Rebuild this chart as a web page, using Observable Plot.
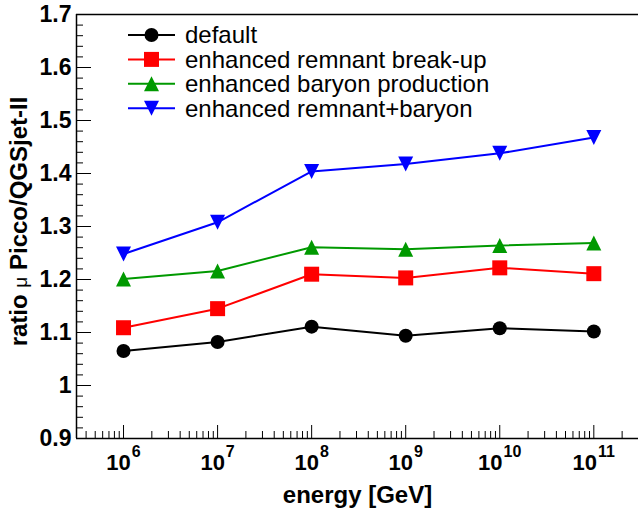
<!DOCTYPE html>
<html><head><meta charset="utf-8">
<script src="https://cdn.jsdelivr.net/npm/d3@7"></script>
<script src="https://cdn.jsdelivr.net/npm/@observablehq/plot@0.6"></script>
<style>
body{margin:0;background:#fff}
#chart svg{display:block}
</style>
</head><body><div id="chart"></div>
<script>
// ---- data ----
const exponents = [6, 7, 8, 9, 10, 11];
const energies = [1e6, 1e7, 1e8, 1e9, 1e10, 1e11];
const seriesNames = ["default", "enhanced remnant break-up", "enhanced baryon production", "enhanced remnant+baryon"];
const seriesColors = ["#000000", "#ff0000", "#009900", "#0000ff"];
const valDefault = [1.065, 1.082, 1.111, 1.094, 1.108, 1.102];
const valRemnant = [1.109, 1.145, 1.210, 1.203, 1.222, 1.211];
const valBaryon  = [1.201, 1.216, 1.261, 1.257, 1.264, 1.269];
const valBoth    = [1.248, 1.308, 1.404, 1.418, 1.438, 1.468];
const yTickValues = [0.9, 1.0, 1.1, 1.2, 1.3, 1.4, 1.5, 1.6, 1.7];
const yTickLabels = ["0.9", "1", "1.1", "1.2", "1.3", "1.4", "1.5", "1.6", "1.7"];
const xTickLabels = ["10^6", "10^7", "10^8", "10^9", "10^10", "10^11"];
const xTitle = "energy [GeV]";
const yTitle = "ratio μ Picco/QGSjet-II";

// ---- symbols (ROOT-like markers) ----
const symCircle = {draw(c, s) { const r = Math.sqrt(s / Math.PI); c.moveTo(r, 0); c.arc(0, 0, r, 0, 2 * Math.PI); }};
const symSquare = {draw(c, s) { const r = Math.sqrt(s / Math.PI); c.rect(-r, -r, 2 * r, 2 * r); }};
const symTriUp = {draw(c, s) { const r = Math.sqrt(s / Math.PI); c.moveTo(0, -r); c.lineTo(r, r); c.lineTo(-r, r); c.closePath(); }};
const symTriDown = {draw(c, s) { const r = Math.sqrt(s / Math.PI); c.moveTo(0, r); c.lineTo(r, -r); c.lineTo(-r, -r); c.closePath(); }};
const seriesSymbols = [symCircle, symSquare, symTriUp, symTriDown];
const seriesR = [7, 7.5, 7.5, 7.5];
const seriesValues = [valDefault, valRemnant, valBaryon, valBoth];

const font = "'Liberation Sans', Arial, Helvetica, sans-serif";
const xDomain = [10 ** 5.5, 10 ** 11.475];
const yDomain = [0.9, 1.7];

const xAll = d3.scaleLog().domain(xDomain).ticks();
const xMinor = xAll.filter(v => !energies.some(e => Math.abs(e - v) / e < 1e-9));
const yMinor = d3.range(0, 41).map(i => +(0.9 + i * 0.02).toFixed(2)).filter(v => !yTickValues.some(t => Math.abs(t - v) < 1e-9));

const marks = [];
// frame lines
marks.push(Plot.ruleY([yDomain[1]], {stroke: "#000", strokeWidth: 1.5}));
marks.push(Plot.ruleY([yDomain[0]], {stroke: "#000", strokeWidth: 1.5}));
marks.push(Plot.ruleX([xDomain[0]], {stroke: "#000", strokeWidth: 1.5}));
// inward ticks
marks.push(Plot.axisX(xMinor, {anchor: "bottom", tickSize: -7, tickFormat: () => "", label: null, strokeWidth: 1}));
marks.push(Plot.axisX(energies, {anchor: "bottom", tickSize: -13, tickFormat: () => "", label: null, strokeWidth: 1}));
marks.push(Plot.axisY(yMinor, {anchor: "left", tickSize: -7, tickFormat: () => "", label: null, strokeWidth: 1}));
marks.push(Plot.axisY(yTickValues, {anchor: "left", tickSize: -15, tickFormat: () => "", label: null, strokeWidth: 1}));
// tick labels
marks.push(Plot.text(yTickValues, {y: d => d, frameAnchor: "left", dx: -5, textAnchor: "end", lineAnchor: "middle",
  text: (d, i) => yTickLabels[i], fontSize: 23, fontWeight: "bold", fill: "#000"}));
marks.push(Plot.text(energies, {x: d => d, frameAnchor: "bottom", dy: 24, textAnchor: "middle", lineAnchor: "middle",
  text: (d, i) => xTickLabels[i], fontSize: 22, fontWeight: "bold", fill: "#000"}));
// titles
marks.push(Plot.text([xTitle], {frameAnchor: "bottom", dy: 57, textAnchor: "middle", lineAnchor: "middle",
  text: d => d, fontSize: 24, fontWeight: "bold", fill: "#000"}));
marks.push(Plot.text([yTitle], {frameAnchor: "left", dx: -57, dy: -5, rotate: -90, textAnchor: "middle", lineAnchor: "middle",
  text: d => d, fontSize: 24, fontWeight: "bold", fill: "#000"}));
// series
seriesValues.forEach((vals, k) => {
  const rows = energies.map((e, i) => ({energy: e, value: vals[i]}));
  marks.push(Plot.line(rows, {x: "energy", y: "value", stroke: seriesColors[k], strokeWidth: 2}));
  marks.push(Plot.dot(rows, {x: "energy", y: "value", fill: seriesColors[k], stroke: "none",
    symbol: seriesSymbols[k], r: seriesR[k]}));
});

const chart = Plot.plot({
  width: 638, height: 512,
  marginLeft: 76, marginRight: 0, marginTop: 14, marginBottom: 74,
  x: {type: "log", domain: xDomain, axis: null},
  y: {domain: yDomain, axis: null},
  style: {fontFamily: font, background: "#fff", color: "#000", overflow: "visible"},
  marks
});

const svg = d3.select(chart);
// superscripts for the x tick labels, non-bold mu in the y title
svg.selectAll("text").each(function() {
  const t = d3.select(this);
  const m = /^(\d+)\^(\d+)$/.exec(t.text());
  if (m) {
    t.text(null);
    t.append("tspan").text(m[1]);
    t.append("tspan").attr("dx", 1).attr("dy", -13).attr("font-size", 16).text(m[2]);
  } else if (t.text() === yTitle) {
    const parts = yTitle.split("μ");
    t.text(null);
    t.append("tspan").text(parts[0]);
    t.append("tspan").attr("font-weight", "normal").attr("font-size", 19).text("μ");
    t.append("tspan").text(parts[1]);
  }
});

// legend (inside the frame, top-left)
const lg = svg.append("g").attr("font-family", font).attr("font-size", 24).attr("text-anchor", "start");
seriesNames.forEach((name, k) => {
  const cy = 35 + k * 24.4;
  lg.append("line").attr("x1", 128).attr("x2", 175).attr("y1", cy).attr("y2", cy)
    .attr("stroke", seriesColors[k]).attr("stroke-width", 2);
  lg.append("path").attr("d", d3.symbol(seriesSymbols[k], Math.PI * seriesR[k] ** 2)())
    .attr("transform", `translate(151.5,${cy})`).attr("fill", seriesColors[k]);
  lg.append("text").attr("x", 185).attr("y", cy).attr("dy", "0.35em").attr("fill", "#000").text(name);
});

document.getElementById("chart").appendChild(chart);
</script>
</body></html>
